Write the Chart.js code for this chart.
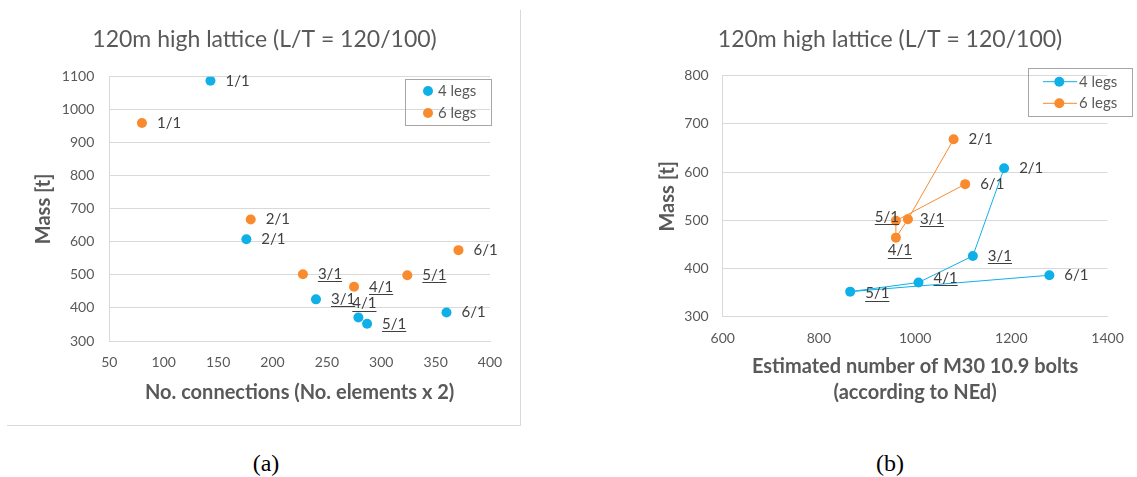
<!DOCTYPE html>
<html>
<head>
<meta charset="utf-8">
<script src="https://cdn.jsdelivr.net/npm/chart.js@4.4.1/dist/chart.umd.min.js"></script>
<style>
html,body{margin:0;padding:0;background:#fff;}
body{width:1137px;height:477px;position:relative;overflow:hidden;}
#frameA{position:absolute;left:7px;top:10px;width:513px;height:415px;border-right:1px solid #d9d9d9;border-bottom:1px solid #d9d9d9;}
#cA{position:absolute;left:0;top:0;}
#cB{position:absolute;left:640px;top:0;}
.cap{position:absolute;top:449px;width:60px;text-align:center;font-family:"Liberation Serif",serif;font-size:24px;line-height:28px;color:#000;}
</style>
</head>
<body>
<div id="frameA"></div>
<canvas id="cA" width="521" height="426"></canvas>
<canvas id="cB" width="497" height="426"></canvas>
<div class="cap" style="left:236px">(a)</div>
<div class="cap" style="left:860px">(b)</div>
<script>
const $ = id => document.getElementById(id);

// ---------------- DATA ----------------
const seriesNames = ['4 legs', '6 legs'];
const cases = ['1/1', '2/1', '3/1', '4/1', '5/1', '6/1'];

// (a) mass vs number of connections
const conn4 = [143, 176, 240, 279, 287, 360];
const mass4 = [1088, 608, 426, 371, 352, 386];
const conn6 = [80, 180, 228, 275, 324, 371];
const mass6 = [960, 668, 502, 464, 499, 575];

// (b) mass vs estimated bolts (1/1 is off the chart)
const boltCases = ['2/1', '3/1', '4/1', '5/1', '6/1'];
const bolts4 = [1185, 1120, 1007, 865, 1279];
const boltMass4 = [608, 426, 371, 352, 386];
const bolts6 = [1080, 985, 960, 960, 1104];
const boltMass6 = [668, 502, 464, 499, 575];

const xTicksA = [50, 400, 50];   // min, max, step
const yTicksA = [300, 1100, 100];
const xTicksB = [600, 1400, 200];
const yTicksB = [300, 800, 100];

// ---------------- STYLE ----------------
const BLUE = '#0fb0e8';
const ORANGE = '#fa8a2e';
const GREY = '#595959';
const GRID = '#d9d9d9';
const underlined = ['3/1', '4/1', '5/1'];

// label offsets from the point (default: right of it)
const offsA4 = {'4/1': {dx: 6, dy: -14, align: 'center'}};
const offsA6 = {};
const offsB4 = {'4/1': {dy: -4}, '5/1': {dy: 2}};
const offsB6 = {'3/1': {dx: 12}, '4/1': {dx: 4, dy: 13, align: 'center'}, '5/1': {dx: -9, dy: -4, align: 'center'}};

Chart.defaults.font.family = 'Lato';
Chart.defaults.color = GREY;

const toPts = (xs, ys) => xs.map((x, i) => ({x: x, y: ys[i]}));

// ---------------- PLUGINS ----------------
const pointLabels = {
  id: 'pointLabels',
  afterDatasetsDraw(chart) {
    const ctx = chart.ctx;
    ctx.save();
    ctx.font = '15px Lato';
    ctx.fillStyle = '#404040';
    ctx.strokeStyle = '#404040';
    ctx.lineWidth = 1;
    ctx.textBaseline = 'middle';
    chart.data.datasets.forEach((ds, di) => {
      chart.getDatasetMeta(di).data.forEach((pt, i) => {
        const txt = ds.names[i];
        const o = Object.assign({dx: 15, dy: 0, align: 'left'}, ds.offsets[txt]);
        const x = pt.x + o.dx, y = pt.y + o.dy;
        ctx.textAlign = o.align;
        ctx.fillText(txt, x, y);
        if (underlined.includes(txt)) {
          const w = ctx.measureText(txt).width;
          const x0 = o.align === 'center' ? x - w / 2 : x;
          const uy = Math.round(y + 7) + 0.5;
          ctx.beginPath();
          ctx.moveTo(x0, uy);
          ctx.lineTo(x0 + w, uy);
          ctx.stroke();
        }
      });
    });
    ctx.restore();
  }
};

const boxLegend = {
  id: 'boxLegend',
  afterDraw(chart, args, opts) {
    const ctx = chart.ctx;
    const b = opts.box;
    ctx.save();
    ctx.strokeStyle = '#a6a6a6';
    ctx.lineWidth = 1;
    ctx.strokeRect(b[0] + 0.5, b[1] + 0.5, b[2] - b[0], b[3] - b[1]);
    ctx.font = '15px Lato';
    ctx.fillStyle = GREY;
    ctx.textBaseline = 'middle';
    ctx.textAlign = 'left';
    chart.data.datasets.forEach((ds, i) => {
      const y = opts.rows[i];
      if (opts.line) {
        ctx.strokeStyle = ds.borderColor;
        ctx.beginPath();
        ctx.moveTo(opts.line[0], y);
        ctx.lineTo(opts.line[1], y);
        ctx.stroke();
      }
      ctx.fillStyle = ds.backgroundColor;
      ctx.beginPath();
      ctx.arc(opts.markerX, y, 5, 0, Math.PI * 2);
      ctx.fill();
      ctx.fillStyle = GREY;
      ctx.fillText(ds.label, opts.textX, y);
    });
    ctx.restore();
  }
};

// ---------------- CHART HELPERS ----------------
const plain = v => String(v);

function makeScales(xt, yt, s) {
  return {
    x: {
      type: 'linear', min: xt[0], max: xt[1],
      ticks: {stepSize: xt[2], padding: s.xPad, font: {size: 14}, color: GREY, callback: plain},
      grid: {display: false, drawTicks: false},
      border: {color: GRID},
      title: {display: true, text: s.xTitle, color: GREY,
        font: {size: 20, weight: 'bold', lineHeight: s.xLh}, padding: {top: 0, bottom: s.xTitlePad}},
      afterFit: sc => { sc.height = s.xHeight; }
    },
    y: {
      type: 'linear', min: yt[0], max: yt[1],
      ticks: {stepSize: yt[2], padding: s.yPad, font: {size: 14}, color: GREY, callback: plain},
      grid: {color: GRID, drawTicks: false},
      border: {color: GRID},
      title: {display: true, text: 'Mass [t]', color: GREY,
        font: {size: 20, weight: 'bold'}, padding: {top: s.yTitlePad, bottom: 0}},
      afterFit: sc => { sc.width = s.yWidth; }
    }
  };
}

function dataset(label, pts, names, offsets, color, line) {
  return {
    label: label, data: pts, names: names, offsets: offsets,
    backgroundColor: color, borderColor: color, borderWidth: 1,
    pointRadius: 5, pointHoverRadius: 5, pointBorderWidth: 0,
    showLine: line
  };
}

const title = {
  display: true, text: '120m high lattice (L/T = 120/100)', color: GREY,
  font: {size: 23, weight: 'normal', lineHeight: 1.2}
};

// ---------------- (a) ----------------
new Chart($('cA'), {
  type: 'scatter',
  data: {datasets: [
    dataset(seriesNames[0], toPts(conn4, mass4), cases, offsA4, BLUE, false),
    dataset(seriesNames[1], toPts(conn6, mass6), cases, offsA6, ORANGE, false)
  ]},
  options: {
    responsive: false, animation: false, events: [],
    layout: {padding: {left: 39, right: 31, top: 0, bottom: 0}},
    plugins: {
      legend: {display: false}, tooltip: {enabled: false},
      title: Object.assign({}, title, {padding: {top: 26.2, bottom: 22.9}}),
      boxLegend: {box: [405, 79, 491, 125], rows: [91, 113], markerX: 428, textX: 438, line: null}
    },
    scales: makeScales(xTicksA, yTicksA, {
      xTitle: 'No. connections (No. elements x 2)', xLh: 1.2, xTitlePad: 21.7, xPad: 13.3, xHeight: 85,
      yPad: 15, yTitlePad: -7.4, yWidth: 70.3
    })
  },
  plugins: [pointLabels, boxLegend]
});

// ---------------- (b) ----------------
new Chart($('cB'), {
  type: 'scatter',
  data: {datasets: [
    dataset(seriesNames[0], toPts(bolts4, boltMass4), boltCases, offsB4, BLUE, true),
    dataset(seriesNames[1], toPts(bolts6, boltMass6), boltCases, offsB6, ORANGE, true)
  ]},
  options: {
    responsive: false, animation: false, events: [],
    layout: {padding: {left: 30, right: 27, top: 0, bottom: 0}},
    plugins: {
      legend: {display: false}, tooltip: {enabled: false},
      title: Object.assign({}, title, {padding: {top: 26.2, bottom: 21.9}}),
      boxLegend: {box: [388, 68, 492, 116], rows: [81.7, 103.3], markerX: 419.3, textX: 439, line: [403, 437]}
    },
    scales: makeScales(xTicksB, yTicksB, {
      xTitle: ['Estimated number of M30 10.9 bolts', '(according to NEd)'], xLh: 1.28, xTitlePad: 20.9, xPad: 13.2, xHeight: 109.3,
      yPad: 14, yTitlePad: -14.5, yWidth: 52.7
    })
  },
  plugins: [pointLabels, boxLegend]
});
</script>
</body>
</html>
